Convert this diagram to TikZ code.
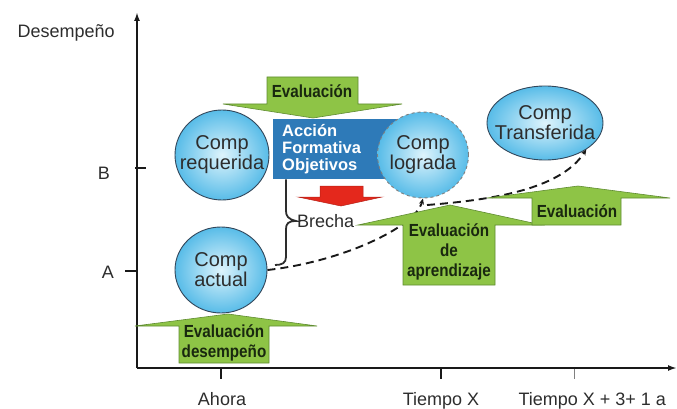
\documentclass[tikz,border=0pt]{standalone}
\usepackage{fontspec}
\setmainfont{Liberation Sans}
\newfontfamily\evfont[FakeStretch=0.87]{Liberation Sans}
\usetikzlibrary{shapes.geometric,arrows.meta}
\definecolor{evgreen}{RGB}{142,196,70}
\definecolor{evgreenD}{RGB}{96,140,50}
\definecolor{boxblue}{RGB}{46,122,184}
\definecolor{cin}{RGB}{222,244,252}
\definecolor{cout}{RGB}{88,188,232}
\definecolor{cedge}{RGB}{50,70,90}
\definecolor{txt}{RGB}{45,45,45}
\definecolor{evtxt}{RGB}{25,40,15}
\definecolor{redarr}{RGB}{228,40,28}
\begin{document}
\begin{tikzpicture}[x=1pt,y=-1pt,
  comp/.style={ellipse, draw=cedge, line width=0.9pt, inner color=cin, outer color=cout,
    inner sep=0pt},
  comptext/.style={align=center, font=\fontsize{20}{20}\selectfont, text=txt},
  evarrow/.style={fill=evgreen, draw=evgreenD, line width=0.6pt},
  evtext/.style={font=\evfont\bfseries\fontsize{17.5}{20}\selectfont, text=evtxt, align=center},
  axislbl/.style={font=\fontsize{18}{18}\selectfont, text=txt},
  axisline/.style={line width=2.2pt, black!90, -{Latex[length=9pt,width=6pt]}},
  tickline/.style={line width=2pt, black!90},
  conn/.style={line width=1.9pt, dash pattern=on 8pt off 5pt, -{Stealth[length=6pt,width=5pt]}, black!90}
]
\useasboundingbox (0,0) rectangle (677,409);
% axes
\coordinate (o) at (137,368);
\coordinate (ytop) at (137,12);
\coordinate (xend) at (677,368);
\draw[axisline] (o) -- (ytop);
\draw[axisline] (o) -- (xend);
\node[axislbl, anchor=base west] (ylab) at (14,38) {Desempeño};
% y ticks
\coordinate (tb1) at (135,168); \coordinate (tb2) at (146,168);
\draw[tickline] (tb1) -- (tb2);
\coordinate (ta1) at (125,271); \coordinate (ta2) at (137,271);
\draw[tickline] (ta1) -- (ta2);
\node[axislbl] (lblB) at (104,173) {B};
\node[axislbl] (lblA) at (108,272) {A};
% x ticks
\coordinate (t1a) at (221,369); \coordinate (t1b) at (221,379);
\coordinate (t2a) at (441,369); \coordinate (t2b) at (441,379);
\coordinate (t3a) at (574,369); \coordinate (t3b) at (574,379);
\draw[tickline] (t1a) -- (t1b);
\draw[tickline] (t2a) -- (t2b);
\draw[line width=1pt, black!50] (t3a) -- (t3b);
\node[axislbl, anchor=base] (ahora) at (222,405) {Ahora};
\node[axislbl, anchor=base] (tx) at (441,405) {Tiempo X};
\node[axislbl, anchor=base west] (tx3) at (515,405) {Tiempo X + 3+ 1 a};
% blue box
\node[fill=boxblue, anchor=north west, minimum width=127pt, minimum height=60pt,
  text width=112pt, inner xsep=9pt, inner ysep=4pt, align=left, text=white,
  font=\bfseries\fontsize{16.5}{17}\selectfont] (box) at (273,119) {Acción\\Formativa\\Objetivos};
% circles
\node[comp, minimum width=94pt, minimum height=90pt,
  label={[comptext]center:{Comp\\requerida}}] (req) at (222,155) {};
\node[comp, minimum width=92pt, minimum height=86pt,
  label={[comptext]center:{Comp\\actual}}] (act) at (221,270) {};
\node[comp, draw=gray, dashed, minimum width=91pt, minimum height=86pt,
  label={[comptext]center:{Comp\\lograda}}] (log) at (423,155) {};
\node[comp, minimum width=116pt, minimum height=74pt,
  label={[comptext]center:{Comp\\Transferida}}] (trf) at (545,123) {};
% dashed connectors
\draw[conn] (act.east) .. controls (340,262) and (415,228) .. (log.south);
\coordinate (c2) at (427,205);
\draw[conn] (c2) .. controls (490,200) and (560,190) .. (trf.south east);
% green arrows
\draw[evarrow] (267,77) -- (358,77) -- (358,104) -- (402,104) -- (313,118) -- (223,104) -- (267,104) -- cycle;
\node[evtext] (ev1) at (312,91) {Evaluación};
\draw[evarrow] (403,285) -- (403,225) -- (358,225) -- (450,205) -- (542,225) -- (495,225) -- (495,285) -- cycle;
\node[evtext] (ev2) at (449,252) {Evaluación\\de\\aprendizaje};
\draw[evarrow] (532,225) -- (532,198) -- (487,198) -- (578,186) -- (670,198) -- (621,198) -- (621,225) -- cycle;
\node[evtext] (ev3) at (577,211) {Evaluación};
\draw[evarrow] (179,363) -- (179,326) -- (135,326) -- (228,314) -- (317,326) -- (269,326) -- (269,363) -- cycle;
\node[evtext] (ev4) at (224,343) {Evaluación\\desempeño};
% red arrow
\draw[fill=redarr, draw=redarr!80!black, line width=0.5pt] (320,186) -- (363,186) -- (363,197) -- (382,197) -- (341,206) -- (298,197) -- (320,197) -- cycle;
% brace and Brecha
\node[axislbl, anchor=west, inner sep=1pt] (brecha) at (296,221) {Brecha};
\draw[line width=1.8pt, txt] (box.south west -| 286,0) -- (286,211)
  .. controls (286,216) and (288,219) .. (brecha.west)
  .. controls (288,221) and (286,224) .. (286,229) -- (286,257)
  .. controls (286,263) and (282,265) .. (275,265);
\end{tikzpicture}
\end{document}
